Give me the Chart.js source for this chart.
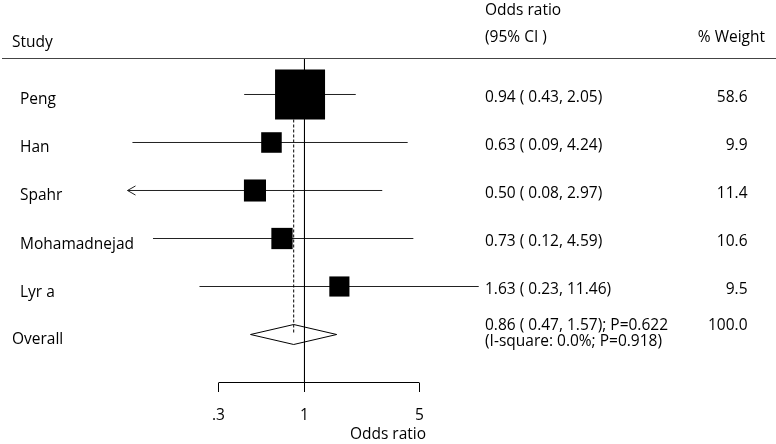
<!DOCTYPE html>
<html>
<head>
<meta charset="utf-8">
<script src="https://cdn.jsdelivr.net/npm/chart.js@4.4.1/dist/chart.umd.min.js"></script>
<style>
html,body{margin:0;padding:0;background:#fff;}
#wrap{width:776px;height:444px;position:relative;}
</style>
</head>
<body>
<div id="wrap"><canvas id="c"></canvas></div>
<script>
// ---- data ----
const studies   = ["Peng", "Han", "Spahr", "Mohamadnejad", "Lyr a"];
const oddsRatio = [0.94, 0.63, 0.50, 0.73, 1.63];
const ciLower   = [0.43, 0.09, 0.08, 0.12, 0.23];
const ciUpper   = [2.05, 4.24, 2.97, 4.59, 11.46];
const weights   = [58.6, 9.9, 11.4, 10.6, 9.5];
const ciText    = ["0.94 ( 0.43, 2.05)", "0.63 ( 0.09, 4.24)", "0.50 ( 0.08, 2.97)", "0.73 ( 0.12, 4.59)", "1.63 ( 0.23, 11.46)"];
const weightText = ["58.6", "9.9", "11.4", "10.6", "9.5"];
const overallLabel = "Overall";
const overallOR = 0.86;
const overallLower = 0.47;
const overallUpper = 1.57;
const overallText1 = "0.86 ( 0.47, 1.57); P=0.622";
const overallText2 = "(I-square: 0.0%; P=0.918)";
const overallWeight = "100.0";
const tickValues = [0.3, 1, 5];
const tickLabels = [".3", "1", "5"];
const axisTitle = "Odds ratio";
const xLimitLow = 0.084;   // plot range limit where CI is cut with an arrow

// ---- style / layout ----
const FONT = "'Open Sans', sans-serif";
const FS = 15.5;
const TXT = "#000";
const LINE = "#222";
const maxBoxSide = 50;          // px side of the heaviest study box
const X_MIN = 0.01410, X_MAX = 734.9;
const Y_MIN = 0.2396, Y_MAX = 7.0104;
const AXIS_ROW = 7.0;

const rows = studies.map((s, i) => i + 1);
const overallRow = studies.length + 1;
const maxW = Math.max(...weights);

const datasets = [];
// CI lines
studies.forEach((s, i) => {
  const lo = Math.max(ciLower[i], xLimitLow);
  datasets.push({
    data: [{x: lo, y: rows[i]}, {x: ciUpper[i], y: rows[i]}],
    showLine: true, borderColor: LINE, borderWidth: 1, pointRadius: 0, order: 5
  });
  if (ciLower[i] < xLimitLow) {
    const f = Math.exp(8 / 71.45), dy = 0.095;
    datasets.push({
      data: [{x: xLimitLow * f, y: rows[i] - dy}, {x: xLimitLow, y: rows[i]}, {x: xLimitLow * f, y: rows[i] + dy}],
      showLine: true, borderColor: LINE, borderWidth: 1, pointRadius: 0, order: 5
    });
  }
});
// null line at OR = 1
datasets.push({
  data: [{x: 1, y: Y_MIN}, {x: 1, y: AXIS_ROW}],
  showLine: true, borderColor: "#000", borderWidth: 1, pointRadius: 0, order: 4, clip: false
});
// dashed overall line
datasets.push({
  data: [{x: overallOR, y: 1}, {x: overallOR, y: overallRow}],
  showLine: true, borderColor: "#000", borderWidth: 1, borderDash: [3, 2], pointRadius: 0, order: 4
});
// bottom axis line spanning tick range
datasets.push({
  data: [{x: tickValues[0], y: AXIS_ROW}, {x: tickValues[tickValues.length - 1], y: AXIS_ROW}],
  showLine: true, borderColor: "#000", borderWidth: 1, pointRadius: 0, order: 4, clip: false
});
// overall diamond
const dh = 0.208;
datasets.push({
  data: [
    {x: overallLower, y: overallRow}, {x: overallOR, y: overallRow - dh},
    {x: overallUpper, y: overallRow}, {x: overallOR, y: overallRow + dh},
    {x: overallLower, y: overallRow}
  ],
  showLine: true, borderColor: "#000", borderWidth: 1, pointRadius: 0, fill: false, order: 3
});
// weighted boxes
datasets.push({
  data: studies.map((s, i) => ({x: oddsRatio[i], y: rows[i]})),
  showLine: false,
  pointStyle: 'rect',
  pointRadius: weights.map(w => maxBoxSide * Math.sqrt(w / maxW) / Math.SQRT2),
  pointBackgroundColor: "#000", pointBorderWidth: 0, pointBorderColor: "#000",
  order: 1
});

const textPlugin = {
  id: 'forestText',
  afterDraw(chart) {
    const ctx = chart.ctx;
    const ys = chart.scales.y;
    ctx.save();
    ctx.fillStyle = TXT;
    ctx.font = FS + "px " + FONT;
    ctx.textBaseline = 'alphabetic';
    // header line
    ctx.strokeStyle = "#444";
    ctx.lineWidth = 1.2;
    ctx.beginPath();
    ctx.moveTo(2, chart.chartArea.top + 0.5);
    ctx.lineTo(776, chart.chartArea.top + 0.5);
    ctx.stroke();
    // headers
    ctx.textAlign = 'left';
    ctx.fillText("Study", 12, 46.5);
    ctx.fillText("Odds ratio", 485, 15.3);
    ctx.fillText("(95% CI )", 485, 41.8);
    ctx.textAlign = 'right';
    ctx.fillText("% Weight", 765, 41.8);
    // rows
    studies.forEach((s, i) => {
      const y = ys.getPixelForValue(rows[i]);
      ctx.textAlign = 'left';
      ctx.fillText(s, 20, y + 10);
      ctx.fillText(ciText[i], 485, y + 7.5);
      ctx.textAlign = 'right';
      ctx.fillText(weightText[i], 747.5, y + 7.5);
    });
    const yo = ys.getPixelForValue(overallRow);
    ctx.textAlign = 'left';
    ctx.fillText(overallLabel, 12, yo + 9.5);
    ctx.fillText(overallText1, 485, yo - 4.2);
    ctx.fillText(overallText2, 485, yo + 11.3);
    ctx.textAlign = 'right';
    ctx.fillText(overallWeight, 747.5, yo - 4.2);
    ctx.restore();
  }
};

new Chart(document.getElementById('c'), {
  type: 'scatter',
  data: {datasets},
  plugins: [textPlugin],
  options: {
    responsive: true,
    maintainAspectRatio: false,
    animation: false,
    events: [],
    layout: {autoPadding: false, padding: {top: 58, left: 0, right: 0, bottom: 0}},
    plugins: {legend: {display: false}, tooltip: {enabled: false}},
    elements: {line: {tension: 0}},
    scales: {
      x: {
        type: 'logarithmic',
        min: X_MIN,
        max: X_MAX,
        afterBuildTicks: (scale) => { scale.ticks = tickValues.map(v => ({value: v})); },
        afterFit: (scale) => { scale.height = 61; },
        ticks: {
          color: TXT,
          font: {family: FONT, size: FS},
          padding: 14,
          autoSkip: false,
          maxRotation: 0,
          callback: (v) => { const k = tickValues.indexOf(v); return k >= 0 ? tickLabels[k] : ''; }
        },
        grid: {display: true, drawOnChartArea: false, drawTicks: true, tickLength: 9, color: "#000", lineWidth: 1},
        border: {display: false},
        title: {display: true, text: axisTitle, color: TXT, font: {family: FONT, size: FS}, padding: {top: 4, bottom: 0}}
      },
      y: {
        type: 'linear', display: false, reverse: true, min: Y_MIN, max: Y_MAX
      }
    }
  }
});
</script>
</body>
</html>
